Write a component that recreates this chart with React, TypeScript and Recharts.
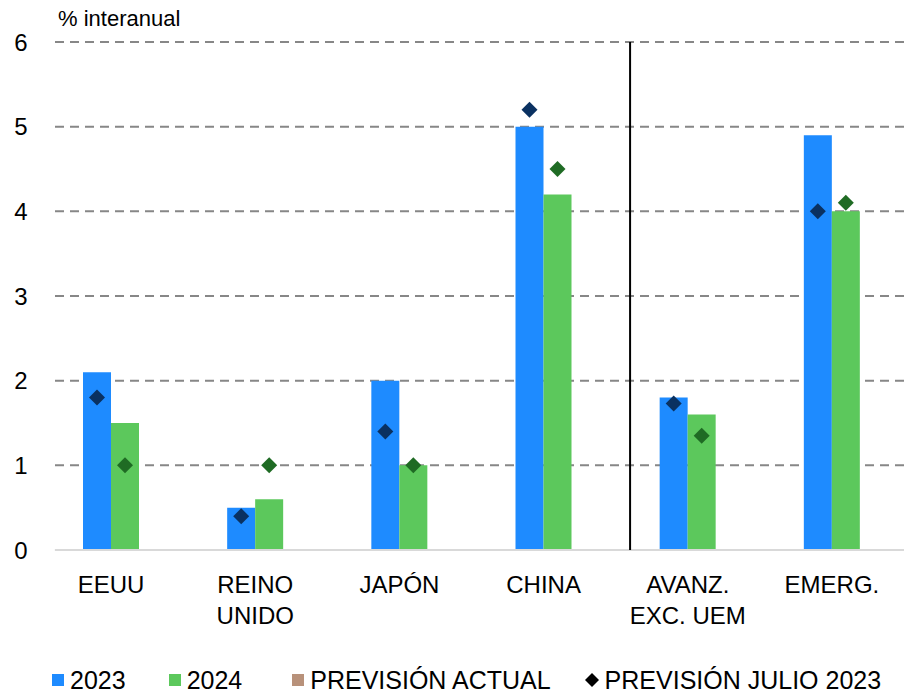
import { BarChart, Bar, XAxis, YAxis, ReferenceLine, Legend, CartesianGrid } from 'recharts';

const categories = ['EEUU', 'REINO\nUNIDO', 'JAPÓN', 'CHINA', 'AVANZ.\nEXC. UEM', 'EMERG.'];
const values2023 = [2.1, 0.5, 2.0, 5.0, 1.8, 4.9];
const values2024 = [1.5, 0.6, 1.0, 4.2, 1.6, 4.0];
const julio2023 = [1.8, 0.4, 1.4, 5.2, 1.73, 4.0];
const julio2024 = [1.0, 1.0, 1.0, 4.5, 1.35, 4.1];
const yTicks = [0, 1, 2, 3, 4, 5, 6];

const data = categories.map((name, i) => ({
  name,
  idx: i,
  y2023: values2023[i],
  y2024: values2024[i],
  j2023: julio2023[i],
  j2024: julio2024[i],
}));

const FONT = '"Liberation Sans", Arial, Helvetica, sans-serif';
const BLUE = '#1E8BFF';
const GREEN = '#5CC85C';
const BROWN = '#B8917A';

function Diamond(props: any) {
  const { x, y, width, fill } = props;
  const cx = x + width / 2;
  const r = 8;
  return <path d={`M${cx},${y - r}L${cx + r},${y}L${cx},${y + r}L${cx - r},${y}Z`} fill={fill} />;
}

function XTick({ x, y, payload }: any) {
  const lines = String(payload.value).split('\n');
  return (
    <text x={x} y={y} textAnchor="middle" fontFamily={FONT} fontSize={24} fill="#000">
      {lines.map((l, i) => (
        <tspan key={i} x={x} dy={i === 0 ? 43 : 31}>{l}</tspan>
      ))}
    </text>
  );
}

function YTick({ y, payload }: any) {
  return (
    <text x={21} y={y} dy={8.5} textAnchor="middle" fontFamily={FONT} fontSize={24} fill="#000">
      {payload.value}
    </text>
  );
}

function LegendBox() {
  const item = (marker: any, label: string, ml: number) => (
    <div style={{ display: 'flex', alignItems: 'center', marginLeft: ml }}>
      {marker}
      <span style={{ marginLeft: 6 }}>{label}</span>
    </div>
  );
  const sq = (c: string) => <div style={{ width: 12, height: 12, background: c }} />;
  return (
    <div style={{ display: 'flex', alignItems: 'center', height: 30, fontFamily: FONT, fontSize: 25, color: '#000', paddingLeft: 52 }}>
      {item(sq(BLUE), '2023', 0)}
      {item(sq(GREEN), '2024', 43)}
      {item(sq(BROWN), 'PREVISIÓN ACTUAL', 50)}
      {item(
        <svg width={14} height={14}><path d="M7,0L14,7L7,14L0,7Z" fill="#000" /></svg>,
        'PREVISIÓN JULIO 2023',
        34
      )}
    </div>
  );
}

export default function App() {
  return (
    <div style={{ position: 'absolute', left: 0, top: 0, width: 908, height: 694, background: '#fff' }}>
      <BarChart
        width={908}
        height={694}
        data={data}
        margin={{ top: 42, right: 4, left: 0, bottom: 24 }}
        barGap={0}
      >
        <CartesianGrid
          x={55}
          width={851}
          vertical={false}
          stroke="#878787"
          strokeWidth={2}
          strokeDasharray="9 6"
        />
        <XAxis
          dataKey="name"
          axisLine={false}
          tickLine={false}
          tickSize={0}
          tickMargin={0}
          height={90}
          interval={0}
          tick={<XTick />}
        />
        <XAxis xAxisId="b" dataKey="name" hide />
        <XAxis xAxisId="num" dataKey="idx" type="number" domain={[0, 6]} hide allowDataOverflow />
        <YAxis
          domain={[0, 6]}
          ticks={yTicks}
          width={39}
          axisLine={false}
          tickLine={false}
          interval={0}
          tick={<YTick />}
        />
        <ReferenceLine
          xAxisId="num"
          segment={[{ x: 0.11, y: 0 }, { x: 6, y: 0 }]}
          stroke="#D9D9D9"
          strokeWidth={2}
        />
        <ReferenceLine xAxisId="num" x={4.1} stroke="#000" strokeWidth={2} />
        <Bar dataKey="y2023" fill={BLUE} barSize={28} isAnimationActive={false} />
        <Bar dataKey="y2024" fill={GREEN} barSize={28} isAnimationActive={false} />
        <Bar xAxisId="b" dataKey="j2023" fill="#0A3161" barSize={28} shape={<Diamond />} isAnimationActive={false} />
        <Bar xAxisId="b" dataKey="j2024" fill="#1F6B24" barSize={28} shape={<Diamond />} isAnimationActive={false} />
        <Legend
          verticalAlign="bottom"
          content={() => <LegendBox />}
          wrapperStyle={{ position: 'absolute', top: 665, left: 0, width: 908 }}
        />
        <text x={58} y={26} fontFamily={FONT} fontSize={22} fill="#000">% interanual</text>
      </BarChart>
    </div>
  );
}
